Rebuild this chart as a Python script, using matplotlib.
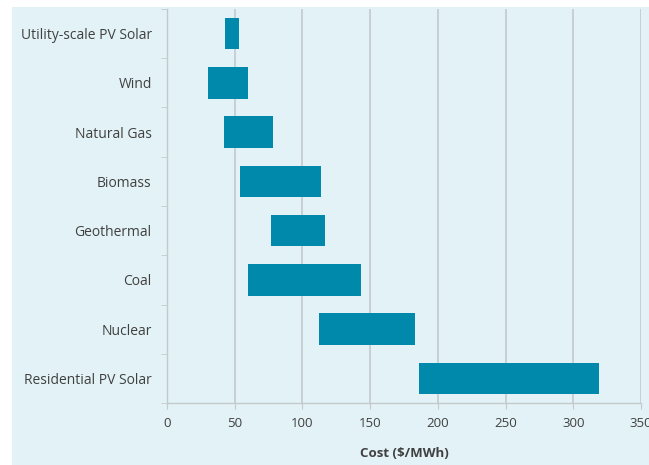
import numpy as np
import matplotlib.pyplot as plt
from matplotlib.patches import Rectangle

plt.rcParams['font.family'] = ['Open Sans', 'DejaVu Sans']

# Levelized cost ranges by source, $/MWh
sources = ["Utility-scale PV Solar", "Wind", "Natural Gas", "Biomass",
           "Geothermal", "Coal", "Nuclear", "Residential PV Solar"]
cost_low = [43, 30, 42, 54, 77, 60, 112, 186]
cost_high = [53, 60, 78, 114, 117, 143, 183, 319]

panel = "#e2f2f6"
bar_color = "#0089ab"
text_color = "#404040"
grid_color = "#c3cacd"

fig = plt.figure(figsize=(6.49, 4.65), dpi=100, facecolor="white")
# light panel behind the whole chart
fig.patches.append(Rectangle((12 / 649, 0), 1, 1 - 7 / 465, transform=fig.transFigure,
                             facecolor=panel, edgecolor="none", zorder=-10))

ax = fig.add_axes([167 / 649, 1 - 403 / 465, (641 - 167) / 649, (403 - 9) / 465])
ax.set_facecolor(panel)

y = np.arange(len(sources))
widths = np.array(cost_high) - np.array(cost_low)
ax.barh(y, widths, left=cost_low, height=0.64, color=bar_color, zorder=3)

ax.set_xlim(0, 350)
ax.set_ylim(len(sources) - 0.5, -0.5)
ax.set_xticks(np.arange(0, 351, 50))
ax.set_yticks(y)
ax.set_yticklabels(sources)
ax.set_yticks(np.arange(-0.5, len(sources), 1), minor=True)

ax.grid(axis="x", color=grid_color, linewidth=1.2, zorder=1)
ax.tick_params(axis="y", which="major", length=0, pad=11, labelsize=10, labelcolor=text_color)
ax.tick_params(axis="y", which="minor", length=4, color=grid_color, direction="out")
ax.tick_params(axis="x", length=4, color=grid_color, labelsize=9.5, labelcolor=text_color, pad=6)

for side in ["top", "right"]:
    ax.spines[side].set_visible(False)
for side in ["left", "bottom"]:
    ax.spines[side].set_color(grid_color)
    ax.spines[side].set_linewidth(1.0)

ax.set_xlabel("Cost ($/MWh)", fontsize=9.5, fontweight="bold", color=text_color, labelpad=12)

fig.savefig("out.png", dpi=100, facecolor="white")
